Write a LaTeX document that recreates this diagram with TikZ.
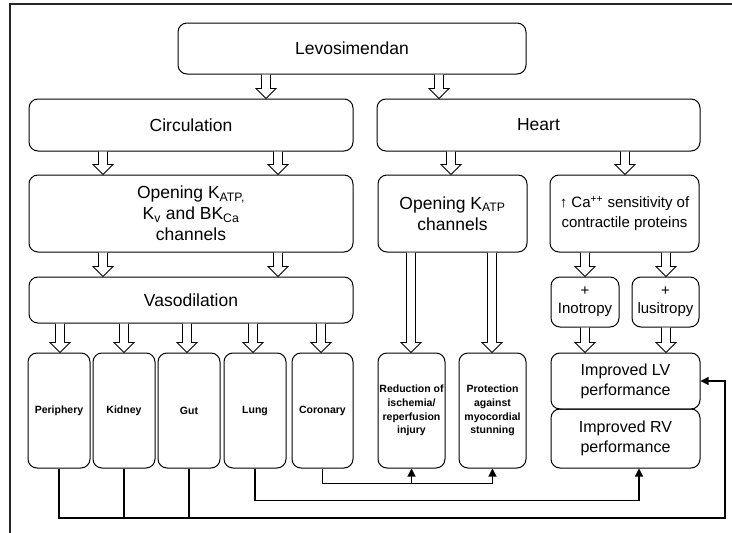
\documentclass[tikz,border=0pt]{standalone}
\usepackage{fontspec}
\setmainfont{Liberation Sans}
\usetikzlibrary{arrows.meta,calc}
\tikzset{
  box/.style={draw, rounded corners=9pt, line width=1pt, align=center, inner sep=1pt},
  big/.style={font=\fontsize{17.5}{21}\selectfont},
  mid/.style={font=\fontsize{15}{20}\selectfont},
  lvf/.style={font=\fontsize{16}{20}\selectfont},
  small/.style={font=\bfseries\fontsize{10.5}{13.7}\selectfont},
  harrow/.style={draw, line width=0.9pt, fill=white, line join=miter},
  conn/.style={draw, line width=1.1pt},
  tip/.style={-{Triangle[length=8pt,width=8pt]}},
  frame/.style={draw=black!85, line width=2.5pt}
}
\newcommand\hollowarr[3]{%
  \draw[harrow] let \p1=(#1.south), \p2=(#2.north) in
  (#3pt-4.5pt,\y1) -- (#3pt-4.5pt,\y2+10pt) -- (#3pt-10pt,\y2+10pt) -- (#3pt,\y2)
  -- (#3pt+10pt,\y2+10pt) -- (#3pt+4.5pt,\y2+10pt) -- (#3pt+4.5pt,\y1);}
\begin{document}
\begin{tikzpicture}[x=1pt,y=-1pt]
\useasboundingbox (0,0) rectangle (732,533);
\draw[frame] (10,533) -- (10,4) -- (732,4);
% top levels
\node[box,big,minimum width=348,minimum height=51] (lev) at (352,48.5) {Levosimendan};
\node[box,big,minimum width=324,minimum height=52] (circ) at (191,125) {Circulation};
\node[box,big,minimum width=323,minimum height=52] (heart) at (538.5,125) {Heart};
\node[box,big,minimum width=324,minimum height=77] (kv) at (191,213.5)
  {Opening K\textsubscript{ATP,}\\K\textsubscript{v} and BK\textsubscript{Ca}\\channels};
\node[box,big,minimum width=149,minimum height=77] (katp) at (452.5,213.5)
  {Opening K\textsubscript{ATP}\\channels};
\node[box,mid,minimum width=149,minimum height=77] (ca) at (624.5,213.5)
  {↑ Ca\textsuperscript{++} sensitivity of\\contractile proteins};
\node[box,big,minimum width=324,minimum height=46] (vaso) at (191,300) {Vasodilation};
\node[box,mid,font=\fontsize{15}{18}\selectfont,minimum width=68,minimum height=50] (ino) at (585,302) {+\\Inotropy};
\node[box,mid,font=\fontsize{15}{18}\selectfont,minimum width=67,minimum height=50] (lusi) at (665.5,302) {+\\lusitropy};
% bottom row
\node[box,small,minimum width=62,minimum height=115] (periph) at (59,410.5) {Periphery};
\node[box,small,minimum width=62,minimum height=115] (kidney) at (124,410.5) {Kidney};
\node[box,small,minimum width=62,minimum height=115] (gut) at (189,410.5) {Gut};
\node[box,small,minimum width=62,minimum height=115] (lung) at (255,410.5) {Lung};
\node[box,small,minimum width=61,minimum height=115] (coronary) at (322.5,410.5) {Coronary};
\node[box,small,minimum width=67,minimum height=115] (reduct) at (411.5,410.5)
  {Reduction of\\ischemia/\\reperfusion\\injury};
\node[box,small,minimum width=67,minimum height=115] (protect) at (492.5,410.5)
  {Protection\\against\\myocordial\\stunning};
\node[box,lvf,minimum width=149,minimum height=56] (lv) at (625.5,381) {Improved LV\\performance};
\node[box,lvf,minimum width=149,minimum height=59] (rv) at (625.5,438.5) {Improved RV\\performance};
% hollow arrows
\hollowarr{lev}{circ}{266}
\hollowarr{lev}{heart}{439}
\hollowarr{circ}{kv}{103}
\hollowarr{circ}{kv}{278}
\hollowarr{heart}{katp}{451}
\hollowarr{heart}{ca}{625}
\hollowarr{kv}{vaso}{103}
\hollowarr{kv}{vaso}{278}
\hollowarr{vaso}{periph}{60}
\hollowarr{vaso}{kidney}{124}
\hollowarr{vaso}{gut}{187}
\hollowarr{vaso}{lung}{253}
\hollowarr{vaso}{coronary}{321}
\hollowarr{katp}{reduct}{411}
\hollowarr{katp}{protect}{492}
\hollowarr{ca}{ino}{585}
\hollowarr{ca}{lusi}{666}
\hollowarr{ino}{lv}{585}
\hollowarr{lusi}{lv}{666}
% connectors
\coordinate (bus) at (725,518);
\draw[conn,tip] (periph.south) |- (bus) |- (lv.east);
\draw[conn] (kidney.south) -- (kidney.south |- bus);
\draw[conn] (gut.south) -- (gut.south |- bus);
\draw[conn,tip] (lung.south) -- ++(0,32) -| ([xshift=13.5pt]rv.south);
\coordinate (cb) at ($(coronary.south)+(0,15)$);
\draw[conn,tip] (coronary.south) -- (cb) -| (protect.south);
\draw[conn,tip] (reduct.south |- cb) -- (reduct.south);
\end{tikzpicture}
\end{document}
